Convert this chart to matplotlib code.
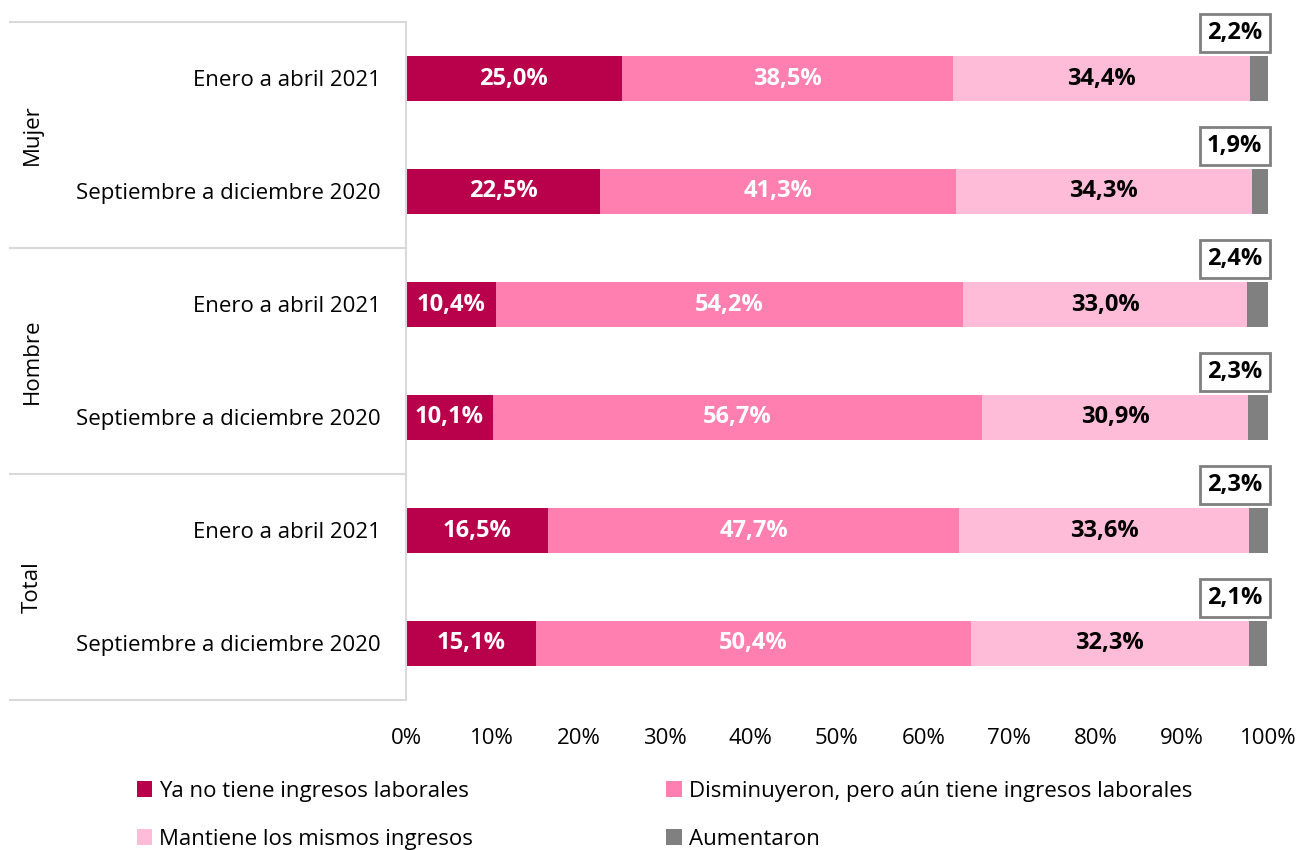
#!/usr/bin/env python3

'''Stacked 100% bars: cambio en ingresos laborales por sexo y periodo.'''

import numpy as np
import matplotlib as mpl
import matplotlib.pyplot as plt
from matplotlib.lines import Line2D

groups = ['Mujer', 'Hombre', 'Total']
periods = ['Enero a abril 2021', 'Septiembre a diciembre 2020']
series = ['Ya no tiene ingresos laborales',
          'Disminuyeron, pero aún tiene ingresos laborales',
          'Mantiene los mismos ingresos',
          'Aumentaron']

ya_no = [25.0, 22.5, 10.4, 10.1, 16.5, 15.1]
disminuyeron = [38.5, 41.3, 54.2, 56.7, 47.7, 50.4]
mantiene = [34.4, 34.3, 33.0, 30.9, 33.6, 32.3]
aumentaron = [2.2, 1.9, 2.4, 2.3, 2.3, 2.1]

colors = ['#B8004B', '#FF7FB0', '#FFBCD8', '#808080']
label_colors = ['white', 'white', 'black', None]


def pct(v):
    return f'{v:.1f}%'.replace('.', ',')


def main():
    mpl.rcParams['font.family'] = ['Open Sans', 'DejaVu Sans']
    fs = 16

    fig = plt.figure(figsize=(13, 8.5), dpi=100)
    W, H = 1300, 850
    ax = fig.add_axes([406 / W, 1 - 700 / H, (1268 - 406) / W, (700 - 22) / H])

    values = [ya_no, disminuyeron, mantiene, aumentaron]
    y = np.arange(len(ya_no))
    left = np.zeros(len(y))
    handles = []
    for name, vals, col, lc in zip(series, values, colors, label_colors):
        vals = np.array(vals)
        h = ax.barh(y, vals, left=left, height=0.4, color=col, label=name)
        handles.append(h)
        if lc is not None:
            for yi, l, v in zip(y, left, vals):
                ax.text(l + v / 2, yi, pct(v), ha='center', va='center',
                        color=lc, fontsize=fs + 1, fontweight='bold')
        else:
            for yi, v in zip(y, vals):
                ax.annotate(pct(v), xy=(100, yi), xytext=(-4, 33),
                            textcoords='offset points', ha='right',
                            va='center', fontsize=fs + 1, fontweight='bold',
                            bbox=dict(boxstyle='square,pad=0.3', fc='white',
                                      ec='#808080', lw=2))
        left += vals

    ax.set_xlim(0, 100)
    ax.set_ylim(5.5, -0.5)
    ax.set_xticks(np.arange(0, 101, 10))
    ax.set_xticklabels([f'{t}%' for t in range(0, 101, 10)], fontsize=fs)
    ax.set_yticks(y)
    ax.set_yticklabels(periods * len(groups), fontsize=fs)
    ax.tick_params(length=0, pad=18, axis='y')
    ax.tick_params(length=0, pad=20, axis='x')
    for s in ['top', 'right', 'bottom']:
        ax.spines[s].set_visible(False)
    ax.spines['left'].set_color('#D9D9D9')
    ax.spines['left'].set_linewidth(1.5)

    # group separators and rotated group labels
    for py in [22, 248, 474, 700]:
        fig.add_artist(Line2D([10 / W, 406 / W], [1 - py / H, 1 - py / H],
                              color='#D9D9D9', lw=1.5))
    for i, g in enumerate(groups):
        cy = 22 + 113 + i * 226
        fig.text(32 / W, 1 - cy / H, g, rotation=90, ha='center',
                 va='center', fontsize=fs)

    # row-major legend order: matplotlib fills columns first
    order = [0, 2, 1, 3]
    fig.legend([handles[i] for i in order], [series[i] for i in order],
               loc='upper left', bbox_to_anchor=(128 / W, 1 - 772 / H),
               ncol=2, frameon=False, fontsize=fs, handlelength=0.7,
               handleheight=0.7, handletextpad=0.3, columnspacing=8.7,
               labelspacing=1.2, borderaxespad=0)

    fig.savefig('out.png', dpi=100)
    plt.close(fig)


if __name__ == '__main__':
    main()
